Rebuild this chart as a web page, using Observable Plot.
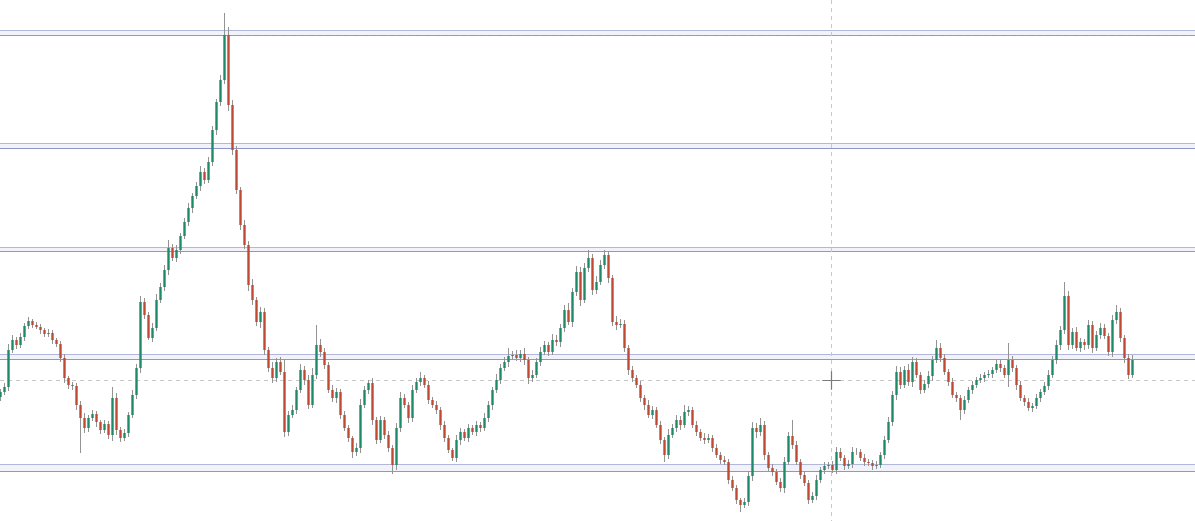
<!DOCTYPE html>
<html>
<head>
<meta charset="utf-8">
<script src="https://cdn.jsdelivr.net/npm/d3@7"></script>
<script src="https://cdn.jsdelivr.net/npm/@observablehq/plot@0.6"></script>
<style>
  html, body { margin: 0; padding: 0; background: #ffffff; }
  #chart svg { display: block; }
</style>
</head>
<body>
<div id="chart"></div>
<script>
// Candle closes (price units), one per session
const closes = [
129,134,171,181,176,184,195,200,196,194,191,187,188,181,177,163,143,136,135,116,
103,93,103,107,99,91,97,86,123,91,83,88,106,126,153,219,206,183,193,221,
234,251,273,263,271,285,299,313,325,335,349,341,359,391,419,441,486,416,371,331,
296,276,236,221,199,209,171,153,143,159,149,89,106,111,131,151,141,116,146,176,
169,156,131,123,129,106,93,83,69,73,116,131,138,101,81,101,86,73,56,93,
123,116,103,131,139,143,136,121,116,111,96,83,71,63,81,89,83,93,89,96,
93,103,116,131,141,153,159,165,166,163,167,161,143,146,159,169,176,169,181,179,
193,211,199,229,249,221,253,263,231,239,256,266,243,199,196,197,173,151,143,136,
123,116,106,111,96,81,66,86,93,101,96,109,111,96,89,83,81,83,73,66,
61,59,41,33,21,16,19,45,93,89,96,66,53,49,39,33,59,85,76,59,
46,38,21,25,41,51,55,56,51,69,63,55,57,69,69,63,59,58,55,56,
66,81,99,126,149,136,151,139,159,146,131,137,145,161,173,163,149,139,126,123,
111,121,131,136,141,143,146,147,151,157,153,146,161,153,136,123,119,113,115,123,
129,135,146,161,176,191,225,176,189,173,179,176,196,173,186,193,185,169,201,209,
183,163,146,161
];
const firstOpen = 124;
// Upper and lower shadow lengths (price units)
const wickUp = [
3,4,6,5,3,4,3,4,2,3,3,2,4,3,2,3,4,2,3,3,
4,5,3,4,3,2,4,3,11,5,3,4,3,5,4,6,4,3,5,6,
4,5,8,4,5,3,4,5,3,4,6,4,5,4,3,5,22,8,5,4,
3,5,4,6,3,5,4,3,6,4,5,12,4,5,3,6,4,5,7,20,
6,4,3,5,4,3,4,3,2,5,6,4,3,5,3,4,3,4,3,5,
6,4,3,5,4,6,3,4,3,4,3,4,3,2,5,4,3,4,3,4,
3,5,4,3,6,4,5,8,4,5,4,6,3,5,4,5,4,3,6,5,
4,5,7,4,6,5,5,8,4,6,5,5,4,3,6,5,4,3,4,3,
4,3,5,4,3,4,3,6,4,5,4,7,4,3,4,3,5,4,3,4,
3,4,3,4,3,2,4,5,6,5,7,4,3,4,3,4,5,4,16,4,
3,4,3,4,5,3,4,3,4,5,4,3,4,5,4,3,4,3,3,4,
3,4,5,4,6,5,4,6,5,4,3,4,5,4,8,5,4,3,4,3,
3,4,3,4,3,4,3,4,3,4,5,3,17,4,3,4,3,4,3,4,
3,4,5,4,5,4,14,5,4,5,4,3,5,4,4,5,4,3,5,7,
4,3,4,5
];
const wickDn = [
4,3,4,3,4,3,4,3,3,2,4,3,3,4,3,4,5,4,4,5,
35,5,4,3,5,4,3,4,6,5,4,3,4,3,4,5,4,2,4,3,
3,4,5,3,4,4,3,4,5,3,5,4,3,4,5,4,4,6,5,4,
5,4,6,5,4,6,5,4,5,4,3,5,4,3,4,3,5,4,3,4,
5,4,3,4,5,4,3,4,6,4,5,3,4,5,4,3,4,4,9,5,
4,3,5,4,3,4,3,4,3,4,5,4,3,3,4,5,3,4,3,4,
4,3,4,5,3,4,3,5,4,3,4,5,6,4,3,4,3,4,3,4,
5,4,3,5,4,6,3,4,5,4,3,4,5,4,5,3,4,5,4,3,
4,5,3,4,3,4,7,4,3,4,5,3,4,3,4,3,4,3,4,3,
4,3,4,3,4,7,3,4,5,6,4,5,3,4,3,4,5,3,4,3,
4,3,4,3,4,3,4,3,3,4,3,4,3,4,3,3,4,3,4,3,
3,4,3,4,5,4,3,4,5,3,4,3,4,5,3,4,3,4,3,4,
10,4,3,4,3,3,4,3,4,3,4,3,12,4,5,3,4,3,4,3,
4,3,4,3,4,5,4,5,4,3,4,5,4,5,3,4,3,4,5,4,
4,5,4,3
];
// Support / resistance zones (upper and lower edge)
const zoneHi = [491, 378, 274, 167, 57];
const zoneLo = [486, 373, 270, 162, 50];
// Crosshair position and dashed marker from the peak
const crossIndex = 207.75;
const crossPrice = 141;
const peakIndex = 56;
const peakLevel = 486;
const xDomain = [0, 298.75];
const yDomain = [0, 521];

const candles = closes.map((c, i) => {
  const o = i === 0 ? firstOpen : closes[i - 1];
  return {
    i, open: o, close: c,
    high: Math.max(o, c) + (wickUp[i] ?? 3),
    low: Math.min(o, c) - (wickDn[i] ?? 3)
  };
});
const zones = zoneHi.map((h, k) => ({hi: h, lo: zoneLo[k], x1: xDomain[0], x2: xDomain[1]}));

const green = "#1f8a68";
const red = "#bf4a34";

const chart = Plot.plot({
  width: 1195,
  height: 521,
  margin: 0,
  style: {background: "#ffffff"},
  x: {domain: xDomain, axis: null},
  y: {domain: yDomain, axis: null},
  marks: [
    Plot.rect(zones, {x1: "x1", x2: "x2", y1: "lo", y2: "hi", fill: "#f1f2fa"}),
    Plot.ruleY(zones, {y: "hi", stroke: "#b2b8db", strokeWidth: 1.2}),
    Plot.ruleY(zones, {y: "lo", stroke: "#8d97c9", strokeWidth: 1.2}),
    Plot.ruleY([peakLevel], {x1: peakIndex, x2: xDomain[1], stroke: "#a0a0a0", strokeDasharray: "3,6", strokeWidth: 1}),
    Plot.ruleX([crossIndex], {stroke: "#c8c8c8", strokeDasharray: "4,4", strokeWidth: 1}),
    Plot.ruleY([crossPrice], {stroke: "#c8c8c8", strokeDasharray: "4,4", strokeWidth: 1}),
    Plot.ruleX(candles, {x: "i", y1: "low", y2: "high", stroke: "#939393", strokeWidth: 1}),
    Plot.ruleX(candles, {x: "i", y1: "open", y2: "close", stroke: d => d.close >= d.open ? green : red, strokeWidth: 2.4}),
    Plot.dot([{x: crossIndex, y: crossPrice}], {x: "x", y: "y", symbol: "plus", r: 6, stroke: "#7a7a7a", strokeWidth: 1.2})
  ]
});
document.getElementById("chart").appendChild(chart);
</script>
</body>
</html>
